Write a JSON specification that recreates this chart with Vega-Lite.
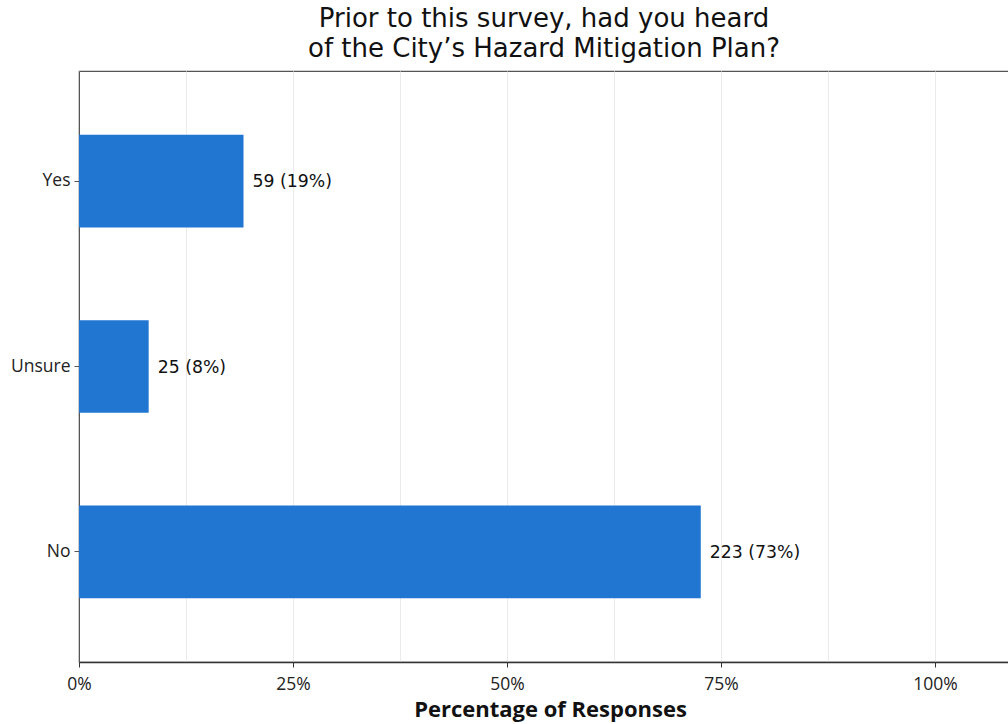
{
  "$schema": "https://vega.github.io/schema/vega-lite/v6.json",
  "autosize": {"type": "none"},
  "padding": {"left": 79, "top": 71, "right": 0, "bottom": 62},
  "width": 930,
  "height": 591,
  "background": "white",
  "title": {
    "text": ["Prior to this survey, had you heard", "of the City\u2019s Hazard Mitigation Plan?"],
    "font": "DejaVu Sans",
    "fontSize": 26,
    "fontWeight": "normal",
    "color": "#111111",
    "lineHeight": 30,
    "anchor": "middle",
    "offset": 9
  },
  "config": {
    "view": {"stroke": "#555555", "strokeWidth": 1.2},
    "axis": {"labelFont": "Open Sans", "titleFont": "Open Sans"}
  },
  "data": {
    "values": [
      {"response": "Yes", "count": 59, "pct": 0.1922, "label": "59 (19%)"},
      {"response": "Unsure", "count": 25, "pct": 0.0814, "label": "25 (8%)"},
      {"response": "No", "count": 223, "pct": 0.7264, "label": "223 (73%)"}
    ]
  },
  "encoding": {
    "y": {
      "field": "response",
      "type": "nominal",
      "sort": ["Yes", "Unsure", "No"],
      "title": null,
      "scale": {"paddingInner": 0.5, "paddingOuter": 0.343},
      "axis": {
        "domainColor": "#555555",
        "tickColor": "#555555",
        "tickSize": 5,
        "labelFontSize": 17.5,
        "labelColor": "#222222",
        "labelPadding": 4
      }
    },
    "x": {
      "field": "pct",
      "type": "quantitative",
      "title": "Percentage of Responses",
      "scale": {"domain": [0, 1.0865], "nice": false},
      "axis": {
        "values": [0, 0.125, 0.25, 0.375, 0.5, 0.625, 0.75, 0.875, 1.0],
        "format": ".0%",
        "labelFlush": false,
        "labelExpr": "(round(datum.value * 1000) % 250 == 0) ? datum.label : ''",
        "tickOpacity": {"condition": {"test": "round(datum.value * 1000) % 250 == 0", "value": 1}, "value": 0},
        "grid": true,
        "gridColor": "#ebebeb",
        "gridWidth": 1,
        "domainColor": "#333333",
        "domainWidth": 1.5,
        "tickColor": "#333333",
        "tickSize": 5,
        "labelFontSize": 17.5,
        "labelColor": "#222222",
        "labelPadding": 8,
        "titleFontSize": 22,
        "titleFontWeight": "bold",
        "titleColor": "#111111",
        "titlePadding": 7,
        "titleX": 471
      }
    }
  },
  "layer": [
    {"mark": {"type": "bar", "color": "#2176D2"}},
    {
      "mark": {"type": "text", "align": "left", "baseline": "middle", "dx": 9, "dy": 1, "font": "DejaVu Sans", "fontSize": 17.3, "color": "#111111"},
      "encoding": {"text": {"field": "label"}}
    }
  ]
}
